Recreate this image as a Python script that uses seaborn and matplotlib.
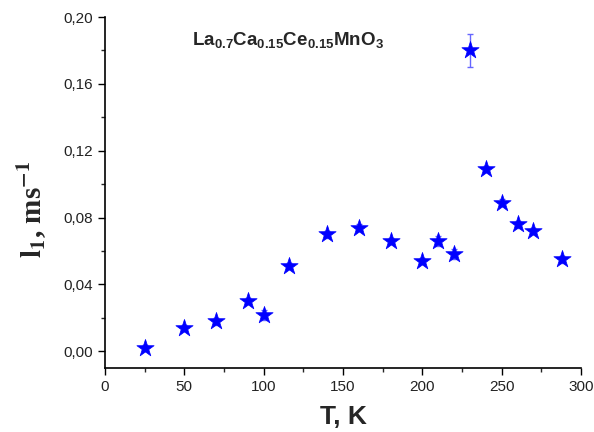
import matplotlib
matplotlib.use("Agg")
import matplotlib.pyplot as plt
import seaborn as sns
import pandas as pd
from matplotlib.ticker import MultipleLocator, FuncFormatter

temperature = [25, 50, 70, 90, 100, 116, 140, 160, 180, 200, 210, 220, 230, 240, 250, 260, 270, 288]
l1_values = [0.002, 0.014, 0.018, 0.030, 0.022, 0.051, 0.070, 0.074, 0.066, 0.054,
             0.066, 0.058, 0.180, 0.109, 0.089, 0.076, 0.072, 0.055]
l1_errors = [0.002, 0.002, 0.002, 0.002, 0.003, 0.002, 0.002, 0.002, 0.002, 0.002,
             0.003, 0.003, 0.010, 0.002, 0.002, 0.002, 0.002, 0.002]

df = pd.DataFrame({"T": temperature, "l1": l1_values, "err": l1_errors})

sns.set_theme(style="ticks")
plt.rcParams['font.family'] = ['Liberation Sans', 'DejaVu Sans']
plt.rcParams['mathtext.fontset'] = 'custom'
plt.rcParams['mathtext.bf'] = 'Liberation Sans:bold'
plt.rcParams['mathtext.rm'] = 'Liberation Sans'

fig = plt.figure(figsize=(5.94, 4.32), dpi=100)
ax = fig.add_axes([105/594, 1 - 368/432, (581-105)/594, (368-17)/432])

ax.errorbar(df["T"], df["l1"], yerr=df["err"], fmt='none', ecolor=(0.4, 0.4, 1.0),
            elinewidth=1.0, capsize=2.5, capthick=1.0, zorder=2)
sns.scatterplot(data=df, x="T", y="l1", marker='*', s=170, color='#0000ff',
                edgecolor='#0000ff', linewidth=0.5, ax=ax, zorder=3)

ax.set_xlim(0, 300)
ax.set_ylim(-0.01, 0.20)
ax.xaxis.set_major_locator(MultipleLocator(50))
ax.xaxis.set_minor_locator(MultipleLocator(25))
ax.yaxis.set_major_locator(MultipleLocator(0.04))
ax.yaxis.set_minor_locator(MultipleLocator(0.02))
ax.yaxis.set_major_formatter(FuncFormatter(lambda v, p: f"{v:.2f}".replace('.', ',').replace('-0,00', '0,00')))
ax.tick_params(which='major', direction='out', length=5, width=1, labelsize=11, colors='black')
ax.tick_params(which='minor', direction='out', length=3, width=1)
for lab in ax.get_xticklabels() + ax.get_yticklabels():
    lab.set_color('#222222')
sns.despine(ax=ax)
for s in ['left', 'bottom']:
    ax.spines[s].set_linewidth(1.2)
    ax.spines[s].set_color('black')

ax.set_xlabel("")
ax.set_ylabel("")
fig.text(343/594, 1 - 417/432, "T, K", ha='center', va='center', fontsize=19,
         fontweight='bold', family=['Liberation Sans'])
fig.text(32/594, 1 - 209/432, r"$\mathbf{l_1}$, ms$^{\mathbf{-1}}$", rotation=90,
         ha='center', va='center', fontsize=21, fontweight='bold',
         family=['Liberation Serif'], math_fontfamily='stix')

ax.text(55, 0.1835, r"$\mathbf{La_{0.7}Ca_{0.15}Ce_{0.15}MnO_3}$", fontsize=13.5,
        ha='left', va='baseline', fontweight='bold')

fig.savefig("out.png", dpi=100)
